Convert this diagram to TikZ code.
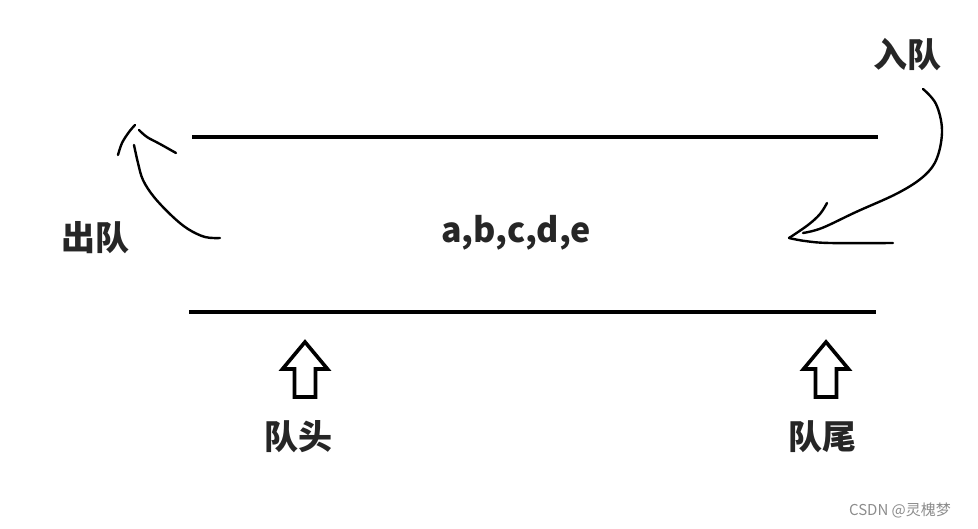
\documentclass[tikz,border=0pt]{standalone}
\usepackage{fontspec}
\newfontfamily\cjk{Noto Sans CJK SC}
\usetikzlibrary{calc}
\tikzset{
    qlabel/.style = {font=\cjk\bfseries\fontsize{34}{36}\selectfont,
                    text=black!85,
                    inner sep=0pt},
    rail/.style =   {line width=4pt,
                    draw=black},
    stroke/.style = {line width=2.4pt,
                    draw=black,
                    line cap=round,
                    line join=round},
    uparrow/.style ={line width=3.6pt,
                    draw=black,
                    fill=white,
                    line join=miter},
    wmark/.style =  {font=\cjk\fontsize{15}{17}\selectfont,
                    text=black!45,
                    inner sep=0pt}}

\begin{document}
\begin{tikzpicture}[x=1pt,y=-1pt]
                \useasboundingbox (0,0) rectangle (978,528);
                % queue walls
                \coordinate (TL) at (192,137);
                \coordinate (TR) at (878,137);
                \coordinate (BL) at (189,312);
                \coordinate (BR) at (876,312);
                \draw[rail] (TL) -- (TR);
                \draw[rail] (BL) -- (BR);
                % labels
                \node[qlabel]   (data)  at (516,233)    {a,b,c,d,e};
                \node[qlabel]   (in)    at (907,55)     {入队};
                \node[qlabel]   (out)   at (95,238)     {出队};
                \node[qlabel]   (head)  at (298,437)    {队头};
                \node[qlabel]   (tail)  at (822,437)    {队尾};
                \node[wmark]    (wm)    at (900,510)    {CSDN @灵槐梦};
                % block arrows
                \coordinate (hA) at (305,397);
                \coordinate (tA) at (826,397);
                \foreach \p in {hA,tA}
                    \draw[uparrow] (\p) ++(-10.5,0) -- ++(0,-28) -- ++(-12,0)
                        -- ++(22.5,-27) -- ++(22.5,27) -- ++(-12,0) -- ++(0,28) -- cycle;
                % dequeue stroke
                \draw[stroke] plot[smooth,tension=0.6] coordinates {(220,238) (205,237) (188,229)
                        (172,216) (154,197) (143,180) (138,163) (134,145)};
                \draw[stroke] plot[smooth,tension=0.6] coordinates {(118,155) (122,143) (129,132) (135,125)};
                \draw[stroke] plot[smooth,tension=0.6] coordinates {(139,130) (147,137) (160,144) (176,153)};
                % enqueue stroke
                \draw[stroke] plot[smooth,tension=0.6] coordinates {(923,89) (936,104) (942,130)
                        (937,158) (924,176) (898,193) (856,212) (822,228) (803,233)};
                \draw[stroke] plot[smooth,tension=0.6] coordinates {(827,203) (820,214) (808,225) (789,238)};
                \draw[stroke] plot[smooth,tension=0.6] coordinates {(789,238) (805,241) (830,243) (893,243)};
        \end{tikzpicture}
\end{document}
